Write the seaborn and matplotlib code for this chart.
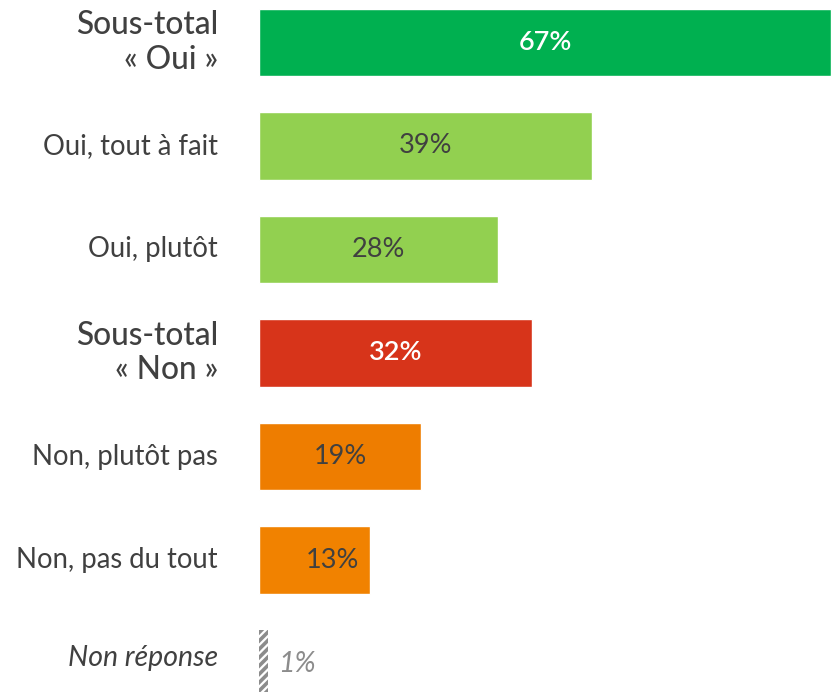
import matplotlib
matplotlib.use("Agg")
import matplotlib.pyplot as plt
import seaborn as sns
import pandas as pd

sns.set_theme(style="white")
plt.rcParams["font.family"] = ["Lato", "DejaVu Sans"]
plt.rcParams["hatch.linewidth"] = 2.6

categories = [
    "Sous-total\n« Oui »",
    "Oui, tout à fait",
    "Oui, plutôt",
    "Sous-total\n« Non »",
    "Non, plutôt pas",
    "Non, pas du tout",
    "Non réponse",
]
values = [67, 39, 28, 32, 19, 13, 1]
value_labels = ["67%", "39%", "28%", "32%", "19%", "13%", "1%"]
bar_colors = ["#00B050", "#92D050", "#92D050", "#D7341A", "#EE7D00", "#F18200", "#FFFFFF"]
is_subtotal = [True, False, False, True, False, False, False]

df = pd.DataFrame({"cat": categories, "val": values})

fig = plt.figure(figsize=(8.37, 6.92), dpi=100)
ax = fig.add_axes([259 / 837, 0, 578 / 837, 1])

sns.barplot(data=df, x="val", y="cat", hue="cat", palette=bar_colors,
            orient="h", width=0.65, legend=False, ax=ax, saturation=1)

# hatched bar for "Non réponse"
nr = ax.patches[-1]
nr.set_hatch("////")
nr.set_edgecolor("#8C8C8C")
nr.set_linewidth(0)

ax.set_xlim(0, 67.7)
ax.set_ylim(6.275, -0.41)
ax.set_xlabel("")
ax.set_ylabel("")
ax.set_xticks([])
ax.set_yticks([])
for s in ax.spines.values():
    s.set_visible(False)

text_dark = "#404040"
for i, (cat, v, lab, sub) in enumerate(zip(categories, values, value_labels, is_subtotal)):
    # category labels on the left
    if cat == "Non réponse":
        ax.text(-4.8, i - 0.05, cat, ha="right", va="center", fontsize=20.5,
                style="italic", color=text_dark)
    elif sub:
        ax.text(-4.8, i, cat, ha="right", va="center", fontsize=22.8,
                fontweight="medium", color=text_dark, linespacing=1.2)
    else:
        ax.text(-4.8, i, cat, ha="right", va="center", fontsize=19.8,
                color=text_dark)

    # value labels
    if cat == "Non réponse":
        ax.text(v + 1.2, i, lab, ha="left", va="center", fontsize=20.5,
                style="italic", color="#8C8C8C")
    else:
        xpos = max(v / 2, 8.55)
        color = "white" if sub else text_dark
        weight = "semibold" if sub else "normal"
        ax.text(xpos, i, lab, ha="center", va="center", fontsize=19.5,
                color=color, fontweight=weight)

fig.savefig("out.png", dpi=100)
